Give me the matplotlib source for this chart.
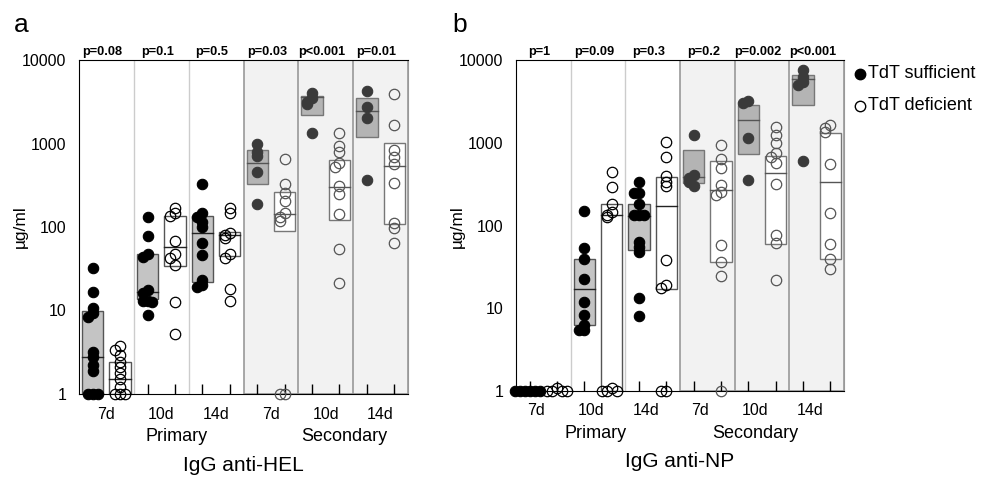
import numpy as np
import matplotlib.pyplot as plt
from matplotlib.lines import Line2D
from matplotlib.patches import Rectangle
import matplotlib.transforms as mtransforms

plt.rcParams['font.family'] = ['Liberation Sans', 'DejaVu Sans']

W, H = 983, 479

# ---- data (ug/ml), columns: 7d,7d,10d,10d,14d,14d primary then secondary; even = sufficient, odd = deficient
days = ['7d', '10d', '14d', '7d', '10d', '14d']

hel_pvals = ['p=0.08', 'p=0.1', 'p=0.5', 'p=0.03', 'p<0.001', 'p=0.01']
hel_points = [
    [32, 16.8, 10.6, 9.3, 8.4, 3.2, 2.8, 2.2, 1.9, 1, 1, 1],
    [3.8, 3.4, 2.9, 2.4, 2.1, 1.8, 1.5, 1.2, 1, 1, 1],
    [133, 78, 48, 44, 17.5, 16, 13, 13, 12.5, 8.8],
    [167, 146, 135, 68.5, 48, 43, 35, 12.8, 5.3],
    [327, 146, 133, 116, 101, 64, 46, 23, 20, 19.3],
    [167, 146, 85.5, 80, 73, 48, 43, 17.9, 13.1],
    [1000, 800, 700, 460, 190],
    [646, 330, 253, 206, 146, 131, 119, 1, 1],
    [3990, 3470, 3160, 2970, 1350],
    [1350, 940, 800, 580, 520, 310, 250, 145, 55, 21.5],
    [4290, 2760, 2040, 365],
    [3920, 1650, 836, 695, 568, 340, 111, 96, 64],
]
hel_box_low = [1, 1, 13.7, 34, 21.7, 45, 327, 90, 2195, 121, 1207, 108]
hel_box_med = [2.75, 1.5, 16.5, 57, 84, 80, 580, 143, 3560, 304, 2450, 543]
hel_box_high = [10, 2.4, 48, 135, 137, 88, 836, 261, 3740, 634, 3480, 1023]

np_pvals = ['p=1', 'p=0.09', 'p=0.3', 'p=0.2', 'p=0.002', 'p<0.001']
np_points = [
    [1, 1, 1, 1, 1, 1],
    [1.1, 1, 1, 1, 1],
    [151, 53, 39, 22.5, 12, 8.3, 6.3, 5.5, 5.5],
    [440, 294, 182, 147, 134, 126, 1.1, 1, 1, 1],
    [338, 249, 245, 182, 134, 134, 134, 64, 55, 48, 13.2, 8.1],
    [1030, 678, 400, 338, 300, 38, 19.1, 17.4, 1, 1],
    [1240, 408, 372, 338, 300],
    [940, 631, 491, 308, 256, 234, 58, 36.5, 24.8, 1],
    [3200, 3000, 1132, 350],
    [1538, 1240, 985, 745, 678, 564, 315, 77, 61, 22],
    [7570, 6290, 5470, 4990, 602],
    [1640, 1496, 1362, 550, 143, 60, 39, 29.8],
]
np_box_low = [1, 1, 6.2, 1, 50, 17.1, 330, 36.5, 731, 60, 2860, 39]
np_box_med = [1, 1, 17, 134, 130, 172, 389, 269, 1883, 435, 5890, 338]
np_box_high = [1, 1, 39, 182, 182, 389, 817, 602, 2860, 697, 6590, 1324]


def swarm(vals, step=0.18, tol=0.05):
    logs = np.log10(vals)
    xs = []
    placed = []
    order = [0, -1, 1, -2, 2, -3, 3]
    for lv in logs:
        k = sum(1 for p in placed if abs(p - lv) < tol)
        xs.append(order[min(k, len(order) - 1)] * step)
        placed.append(lv)
    return np.array(xs)


def draw_panel(ax, points, lows, meds, highs, pvals, label_shift, prim_x, sec_x, title):
    ax.set_yscale('log')
    ax.set_ylim(1, 10000)
    ax.set_xlim(0, 12)
    ax.add_patch(Rectangle((6, 1), 6, 9999, facecolor='#f2f2f2', edgecolor='#999999',
                           lw=1.2, zorder=0))
    for xv in [2, 4]:
        ax.axvline(xv, color='#cccccc', lw=1, zorder=0.5)
    for xv in [8, 10]:
        ax.axvline(xv, color='#999999', lw=1.2, zorder=0.5)

    for i in range(12):
        x0 = i + 0.5
        shaded = i >= 6
        filled = i % 2 == 0
        if filled:
            face = '#b4b4b4' if shaded else '#c4c4c4'
        else:
            face = 'white'
        edge = '#777777' if shaded else '#555555'
        if highs[i] > lows[i]:
            ax.add_patch(Rectangle((x0 - 0.39, lows[i]), 0.78, highs[i] - lows[i],
                                   facecolor=face, edgecolor=edge, lw=1, zorder=2))
            ax.plot([x0 - 0.39, x0 + 0.39], [meds[i], meds[i]], color='#222222' if not shaded else '#555555',
                    lw=1, zorder=2.5)
        vals = np.array(points[i], dtype=float)
        xs = x0 + swarm(vals)
        if filled:
            c = '#3a3a3a' if shaded else 'black'
            ax.plot(xs, vals, 'o', ms=7.5, mfc=c, mec=c, mew=0.8, ls='none', zorder=3, clip_on=False)
        else:
            c = '#555555' if shaded else 'black'
            ax.plot(xs, vals, 'o', ms=7.5, mfc='none', mec=c, mew=0.9, ls='none', zorder=3, clip_on=False)

    ax.set_xticks(np.arange(12) + 0.5)
    ax.set_xticklabels([])
    ax.tick_params(axis='x', direction='in', length=7, width=1)
    for i, t in enumerate(ax.xaxis.get_major_ticks()):
        t.tick1line.set_color('#888888' if i >= 6 else 'black')
    ax.set_yticks([1, 10, 100, 1000, 10000])
    ax.set_yticklabels(['1', '10', '100', '1000', '10000'], fontsize=11.5)
    ax.yaxis.set_minor_locator(plt.NullLocator())
    ax.tick_params(axis='y', length=0, pad=9)
    ax.spines['right'].set_color('#999999')

    trans = mtransforms.blended_transform_factory(ax.transData, ax.transAxes)
    for j in range(6):
        xc = 2 * j + 1
        ax.text(xc - label_shift, -0.06, days[j], transform=trans, ha='center', va='center', fontsize=11.5)
        ax.text(xc - 0.15, 1.025, pvals[j], transform=trans, ha='center', va='center',
                fontsize=9.2, fontweight='bold')
    ax.text(prim_x, -0.128, 'Primary', transform=trans, ha='center', va='center', fontsize=13)
    ax.text(sec_x, -0.128, 'Secondary', transform=trans, ha='center', va='center', fontsize=13)
    ax.text(0.5, -0.213, title, transform=ax.transAxes, ha='center', va='center', fontsize=15)


fig = plt.figure(figsize=(W / 100, H / 100), dpi=100)
ax_a = fig.add_axes([79 / W, 1 - 394 / H, 329 / W, 334 / H])
ax_b = fig.add_axes([516 / W, 1 - 391 / H, 328 / W, 331 / H])

draw_panel(ax_a, hel_points, hel_box_low, hel_box_med, hel_box_high, hel_pvals, 0.0, 3.55, 9.67, 'IgG anti-HEL')
draw_panel(ax_b, np_points, np_box_low, np_box_med, np_box_high, np_pvals, 0.25, 2.9, 8.75, 'IgG anti-NP')

fig.text(20 / W, 1 - 227 / H, 'µg/ml', rotation=90, ha='center', va='center', fontsize=12.5)
fig.text(457 / W, 1 - 227 / H, 'µg/ml', rotation=90, ha='center', va='center', fontsize=12.5)
fig.text(14 / W, 1 - 25 / H, 'a', ha='left', va='center', fontsize=19)
fig.text(452 / W, 1 - 25 / H, 'b', ha='left', va='center', fontsize=19)

# legend drawn in figure coordinates
legend_labels = ['TdT sufficient', 'TdT deficient']
legend_fill = ['black', 'none']
for k, (lab, fc) in enumerate(zip(legend_labels, legend_fill)):
    yy = 1 - (74 + 32 * k) / H
    fig.add_artist(Line2D([860 / W], [yy], marker='o', ls='none', ms=7.5, mfc=fc, mec='black',
                          mew=1.0, transform=fig.transFigure))
    fig.text(868 / W, yy, lab, ha='left', va='center', fontsize=13)

fig.savefig('out.png', dpi=100)
